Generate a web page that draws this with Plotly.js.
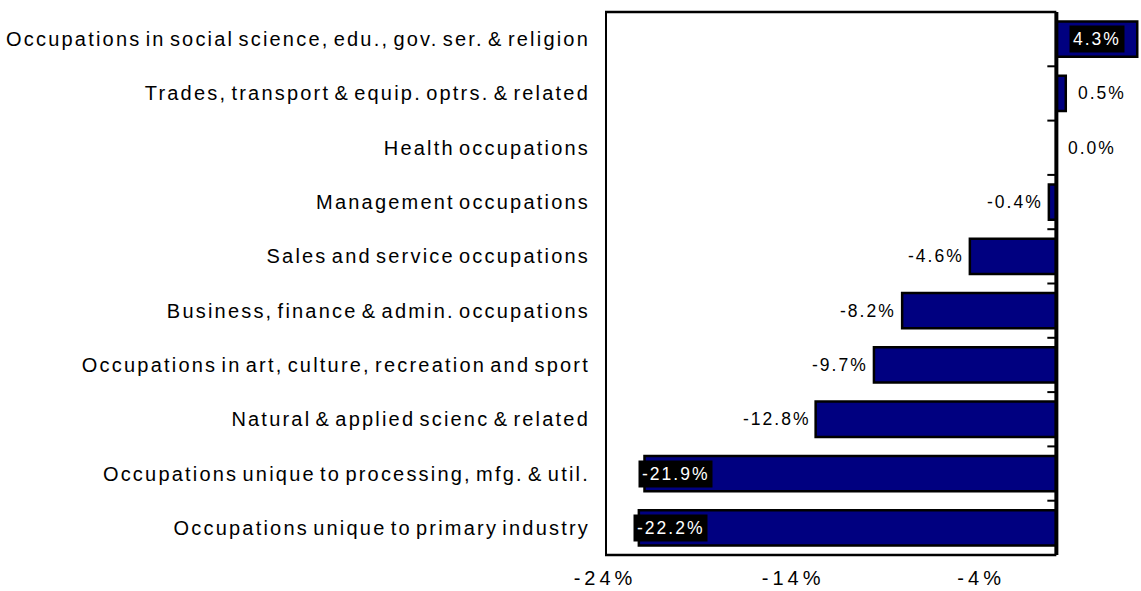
<!DOCTYPE html>
<html>
<head>
<meta charset="utf-8">
<script src="https://cdn.plot.ly/plotly-3.0.1.min.js"></script>
<style>
  html, body { margin: 0; padding: 0; background: #ffffff; }
  #chart { width: 1141px; height: 591px; }
  .xtick text { letter-spacing: 4px; }
  .ytick text { letter-spacing: 2.2px; word-spacing: -3.5px; }
  .annotation-text { letter-spacing: 2px; }
</style>
</head>
<body>
<div id="chart"></div>
<script>
// Categories, top to bottom
const categories = [
  "Occupations in social science, edu., gov. ser. & religion",
  "Trades, transport & equip. optrs. & related",
  "Health occupations",
  "Management occupations",
  "Sales and service occupations",
  "Business, finance & admin. occupations",
  "Occupations in art, culture, recreation and sport",
  "Natural & applied scienc & related",
  "Occupations unique to processing, mfg. & util.",
  "Occupations unique to primary industry"
];
// Percent change
const values = [4.3, 0.5, 0.0, -0.4, -4.6, -8.2, -9.7, -12.8, -21.9, -22.2];
// X axis ticks
const tickValues = [-24, -14, -4];
const tickLabels = ["-24%", "-14%", "-4%"];

const FONT = "Liberation Sans, Arial, sans-serif";
const xMin = -24, xMax = 4.5;

const trace = {
  type: "bar",
  orientation: "h",
  y: categories,
  x: values,
  marker: { color: "#000080", line: { color: "#000000", width: 2.5 } },
  hoverinfo: "none",
  cliponaxis: false
};

// Data labels
const annotations = values.map((v, i) => {
  const txt = v.toFixed(1) + "%";
  const inside = v > 4 || v < -20;
  if (inside) {
    return {
      x: v, y: categories[i], xref: "x", yref: "y",
      text: txt, showarrow: false,
      xanchor: v > 0 ? "right" : "left", yanchor: "middle",
      xshift: v > 0 ? -12 : -6,
      bgcolor: "#000000", borderpad: 3,
      font: { family: FONT, size: 17.5, color: "#ffffff" }
    };
  }
  return {
    x: v, y: categories[i], xref: "x", yref: "y",
    text: txt, showarrow: false,
    xanchor: v >= 0 ? "left" : "right", yanchor: "middle",
    xshift: v >= 0 ? 10 : -4,
    font: { family: FONT, size: 17.5, color: "#000000" }
  };
});

// Frame and category ticks at the zero line
const shapes = [
  { type: "line", xref: "x", yref: "paper", x0: xMin, x1: 0, y0: 1, y1: 1, line: { color: "#000", width: 2.5 }, layer: "above" },
  { type: "line", xref: "x", yref: "paper", x0: xMin, x1: 0, y0: 0, y1: 0, line: { color: "#000", width: 2.5 }, layer: "above" },
  { type: "line", xref: "x", yref: "paper", x0: xMin, x1: xMin, y0: 0, y1: 1, line: { color: "#000", width: 4 }, layer: "above" },
  { type: "line", xref: "x", yref: "paper", x0: 0, x1: 0, y0: 0, y1: 1, line: { color: "#000", width: 4 }, layer: "above" }
];
for (let k = 1; k < categories.length; k++) {
  shapes.push({ type: "line", xref: "x", yref: "y", x0: -0.48, x1: 0, y0: k - 0.5, y1: k - 0.5,
    line: { color: "#000", width: 2 }, layer: "above" });
}

const layout = {
  width: 1141, height: 591,
  margin: { l: 605, r: 0, t: 12, b: 36, pad: 0 },
  paper_bgcolor: "#ffffff", plot_bgcolor: "#ffffff",
  showlegend: false,
  bargap: 0.35,
  font: { family: FONT, color: "#000000" },
  xaxis: {
    range: [xMin, xMax], fixedrange: true,
    tickvals: tickValues, ticktext: tickLabels,
    showgrid: false, zeroline: false, showline: false, ticks: "",
    ticklabelstandoff: 9,
    tickfont: { family: FONT, size: 20, color: "#000" },
    automargin: false
  },
  yaxis: {
    type: "category", autorange: "reversed", fixedrange: true,
    showgrid: false, zeroline: false, showline: false, ticks: "",
    ticklabelstandoff: 14,
    tickfont: { family: FONT, size: 20, color: "#000" },
    automargin: false
  },
  annotations: annotations,
  shapes: shapes
};

Plotly.newPlot("chart", [trace], layout, { displayModeBar: false, staticPlot: true });
</script>
</body>
</html>
